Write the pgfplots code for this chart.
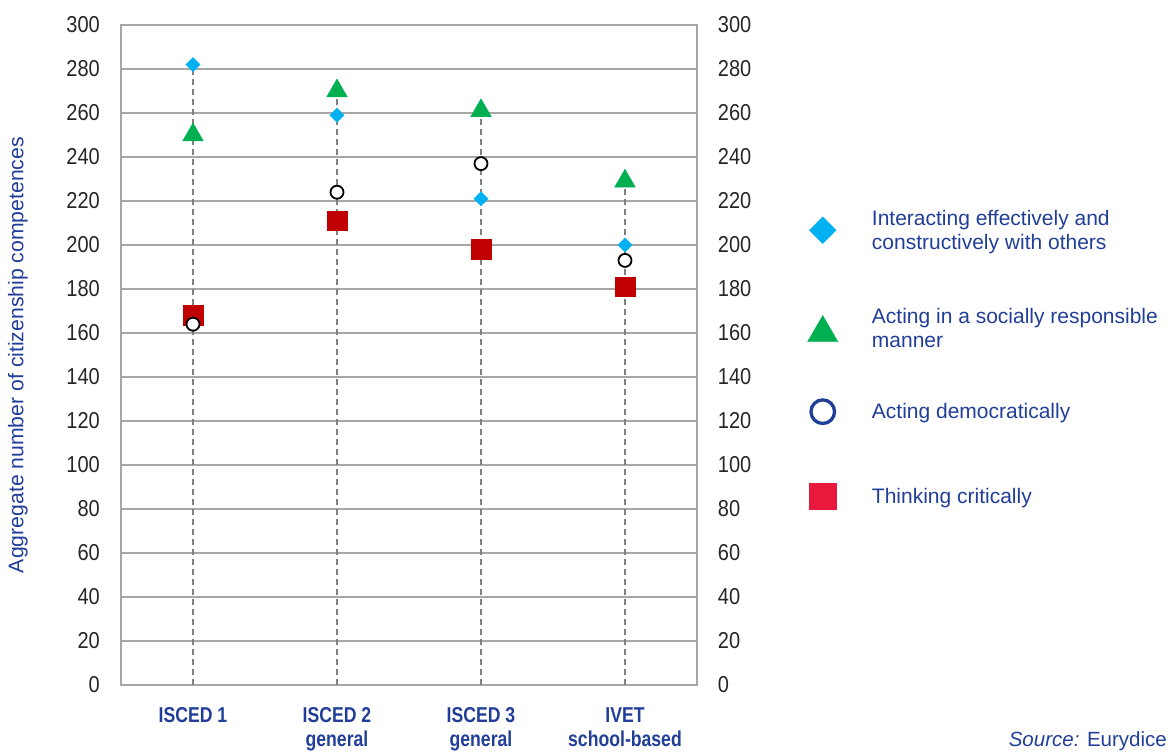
\documentclass[border=0pt]{standalone}
\usepackage{fontspec}
\setmainfont{Liberation Sans}
\newfontfamily\narrowfont[FakeStretch=0.82]{Liberation Sans}
\newfontfamily\numfont[FakeStretch=0.87]{Liberation Sans}
\usepackage{pgfplots}
\pgfplotsset{compat=1.18}

\definecolor{textblue}{RGB}{33,62,152}
\definecolor{cyanmark}{RGB}{0,176,240}
\definecolor{greenmark}{RGB}{0,176,80}
\definecolor{redmark}{RGB}{192,0,0}
\definecolor{legred}{RGB}{232,25,60}
\definecolor{gridgray}{RGB}{166,166,166}

\begin{document}
\begin{tikzpicture}
\path[use as bounding box] (-121pt,-67pt) rectangle (1049pt,685pt);

\pgfplotsset{
  base/.style={
    scale only axis,
    width=576pt, height=660pt,
    at={(0pt,0pt)}, anchor=south west,
    xmin=-0.5, xmax=3.5,
    ymin=0, ymax=300,
    ytick={0,20,...,300},
    major tick length=0pt,
    tick style={draw=none},
    /pgf/number format/assume math mode=true,
    clip=false,
  },
}

% left axis with the data
\begin{axis}[
  base,
  xtick={0,1,2,3},
  xticklabels={ISCED 1, {ISCED 2\\general}, {ISCED 3\\general}, {IVET\\school-based}},
  xticklabel style={align=center, anchor=north, inner sep=0pt, yshift=-22.7pt,
    font=\narrowfont\bfseries\fontsize{21.5}{24}\selectfont, text=textblue},
  yticklabel style={inner sep=0pt, xshift=-21pt,
    font=\numfont\fontsize{23}{24}\selectfont, text=black!85},
  ymajorgrids,
  grid style={draw=gridgray, line width=1.5pt},
  axis line style={draw=gridgray, line width=1.5pt},
  ylabel={Aggregate number of citizenship competences},
  ylabel style={at={(axis description cs:-0.1788,0.5)}, anchor=center,
    font=\fontsize{21.2}{24}\selectfont, text=textblue},
]
% dashed drop lines
\addplot[black!50, line width=1.5pt, dash pattern=on 6pt off 4pt, forget plot] coordinates {(0,0) (0,282)};
\addplot[black!50, line width=1.5pt, dash pattern=on 6pt off 4pt, forget plot] coordinates {(1,0) (1,270)};
\addplot[black!50, line width=1.5pt, dash pattern=on 6pt off 4pt, forget plot] coordinates {(2,0) (2,261)};
\addplot[black!50, line width=1.5pt, dash pattern=on 6pt off 4pt, forget plot] coordinates {(3,0) (3,229)};

% Interacting effectively and constructively with others
\addplot[only marks, mark=square*, mark size=5pt, mark options={rotate=45, fill=cyanmark, draw=cyanmark}]
  coordinates {(0,282) (1,259) (2,221) (3,200)};
% Acting in a socially responsible manner
\addplot[only marks, mark=triangle*, mark size=12pt, mark options={fill=greenmark, draw=greenmark}]
  coordinates {(0,250) (1,270) (2,261) (3,229)};
% Thinking critically
\addplot[only marks, mark=square*, mark size=9.8pt, mark options={fill=redmark, draw=redmark}]
  coordinates {(0,168) (1,211) (2,198) (3,181)};
% Acting democratically
\addplot[only marks, mark=*, mark size=6.5pt, mark options={fill=white, draw=black, line width=1.8pt}]
  coordinates {(0,164) (1,224) (2,237) (3,193)};
\end{axis}

% right axis: labels and legend
\begin{axis}[
  base,
  axis x line=none,
  axis y line*=right,
  y axis line style={draw=none},
  xtick=\empty,
  yticklabel style={inner sep=0pt, xshift=20.7pt,
    font=\numfont\fontsize{23}{24}\selectfont, text=black!85},
  legend style={
    at={(axis description cs:1,1)}, anchor=north west,
    xshift=110.6pt, yshift=-155pt,
    draw=none, fill=none, inner sep=0pt, outer sep=0pt,
    row sep=0pt,
    nodes={inner sep=0pt, outer sep=0pt},
    cells={anchor=west, align=left},
    /tikz/every odd column/.append style={column sep=34pt},
    font=\fontsize{21}{24}\selectfont, text=textblue,
  },
]
\addlegendimage{legend image code/.code={
  \draw[mark=square*, mark size=9.4pt, mark options={rotate=45, fill=cyanmark, draw=cyanmark}] plot coordinates {(0pt,0pt)};
  \path (0pt,-50pt) (0pt,50pt);}}
\addlegendentry{Interacting effectively and\\constructively with others}
\addlegendimage{legend image code/.code={
  \draw[mark=triangle*, mark size=17.5pt, mark options={yshift=-4.4pt, fill=greenmark, draw=greenmark}] plot coordinates {(0pt,0pt)};
  \path (0pt,-48pt) (0pt,48pt);}}
\addlegendentry{Acting in a socially responsible\\manner}
\addlegendimage{legend image code/.code={
  \draw[mark=*, mark size=11.8pt, mark options={fill=white, draw=textblue, line width=3.3pt}] plot coordinates {(0pt,0pt)};
  \path (0pt,-34.7pt) (0pt,34.7pt);}}
\addlegendentry{Acting democratically}
\addlegendimage{legend image code/.code={
  \draw[mark=square*, mark size=13.3pt, mark options={fill=legred, draw=legred}] plot coordinates {(0pt,0pt)};
  \path (0pt,-49.6pt) (0pt,49.6pt);}}
\addlegendentry{Thinking critically}
\end{axis}

\node[anchor=base east, inner sep=0pt, text=textblue, font=\fontsize{20.5}{22}\selectfont]
  at (1046pt,-62pt) {\textit{Source:} Eurydice};
\end{tikzpicture}
\end{document}
